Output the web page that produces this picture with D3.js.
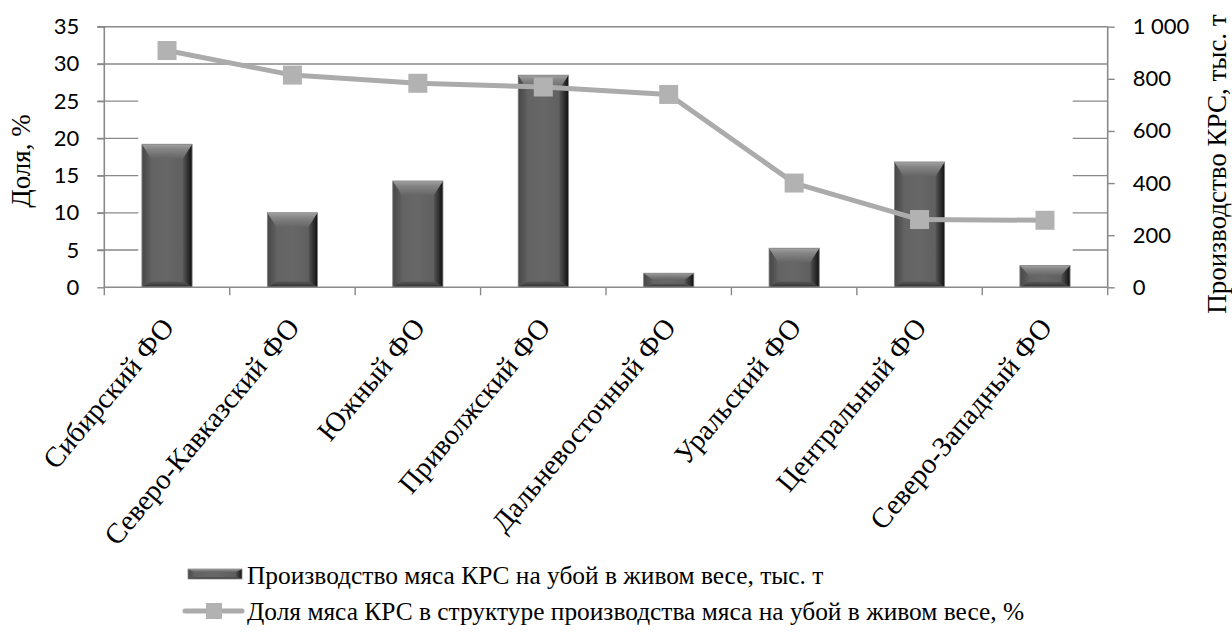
<!DOCTYPE html>
<html>
<head>
<meta charset="utf-8">
<script src="https://cdn.jsdelivr.net/npm/d3@7/dist/d3.min.js"></script>
<style>
  html, body { margin: 0; padding: 0; background: #ffffff; }
  svg { display: block; }
</style>
</head>
<body>
<svg id="chart" width="1232" height="632"></svg>
<script>
// Federal districts
const categories = [
  'Сибирский ФО', 'Северо-Кавказский ФО', 'Южный ФО', 'Приволжский ФО',
  'Дальневосточный ФО', 'Уральский ФО', 'Центральный ФО', 'Северо-Западный ФО'
];
// Cattle meat production for slaughter, live weight, thousand tonnes (right axis)
const production = [549, 286, 408, 814, 54, 150, 481, 84];
// Share of cattle meat in total meat production, % (left axis)
const share = [31.8, 28.5, 27.4, 26.9, 25.9, 14.0, 9.1, 9.0];

const leftTicks = [0, 5, 10, 15, 20, 25, 30, 35];
const rightTicks = [0, 200, 400, 600, 800, 1000];

const seriesNames = [
  'Производство мяса КРС на убой в живом весе, тыс. т',
  'Доля мяса КРС в структуре производства мяса на убой в живом весе, %'
];
const leftTitle = 'Доля, %';
const rightTitle = 'Производство КРС, тыс. т';

const SERIF = "'Liberation Serif'";
const SANS = "'Lato'";

const svg = d3.select('#chart');
const plot = { left: 104.3, right: 1107.7, top: 26.7, bottom: 287.3 };

const x = d3.scaleBand().domain(categories).range([plot.left, plot.right]).paddingInner(0.6).paddingOuter(0.3);
const xStep = d3.scaleBand().domain(categories).range([plot.left, plot.right]);
const yL = d3.scaleLinear().domain([0, 35]).range([plot.bottom, plot.top]);
const yR = d3.scaleLinear().domain([0, 1000]).range([plot.bottom, plot.top]);

const axisColor = '#898989';

// gradients for the bevelled bars
const defs = svg.append('defs');
function lin(id, x1, y1, x2, y2, stops) {
  const g = defs.append('linearGradient').attr('id', id)
    .attr('x1', x1).attr('y1', y1).attr('x2', x2).attr('y2', y2);
  stops.forEach(s => g.append('stop').attr('offset', s[0]).attr('stop-color', s[1]));
}
lin('bevTop', 0, 0, 0, 1, [[0, '#a2a2a2'], [0.35, '#858585'], [1, '#666666']]);
lin('bevLeft', 0, 0, 1, 0, [[0, '#474747'], [1, '#5f5f5f']]);
lin('bevRight', 0, 0, 1, 0, [[0, '#555555'], [0.6, '#2c2c2c'], [1, '#101010']]);
lin('bevBottom', 0, 0, 0, 1, [[0, '#5a5a5a'], [1, '#2e2e2e']]);
lin('bevFace', 0, 0, 1, 0, [[0, '#616161'], [0.5, '#676767'], [1, '#5c5c5c']]);

function bevelBar(g, bx, by, bw, bh, tSize, sSize, bSize) {
  const t = Math.min(tSize, bh * 0.45);
  const b = Math.min(bSize, bh * 0.25);
  const s = Math.min(sSize, bw * 0.2);
  const x0 = bx, x1 = bx + bw, y0 = by, y1 = by + bh;
  g.append('rect').attr('x', x0).attr('y', y0).attr('width', bw).attr('height', bh).attr('fill', 'url(#bevFace)');
  const poly = (pts, fill) => g.append('polygon').attr('points', pts.map(p => p.join(',')).join(' ')).attr('fill', fill);
  poly([[x0, y0], [x0 + s, y0 + t], [x0 + s, y1 - b], [x0, y1]], 'url(#bevLeft)');
  poly([[x1, y0], [x1, y1], [x1 - s, y1 - b], [x1 - s, y0 + t]], 'url(#bevRight)');
  poly([[x0, y1], [x0 + s, y1 - b], [x1 - s, y1 - b], [x1, y1]], 'url(#bevBottom)');
  poly([[x0, y0], [x1, y0], [x1 - s, y0 + t], [x0 + s, y0 + t]], 'url(#bevTop)');
  g.append('rect').attr('x', x0).attr('y', y0).attr('width', bw).attr('height', bh)
    .attr('fill', 'none').attr('stroke', '#8a8a8a').attr('stroke-width', 0.8);
}

// gridlines: full at the top, short stubs next to both axes below
const grid = svg.append('g');
leftTicks.filter(v => v > 0).forEach(v => {
  const yy = yL(v);
  if (v >= 30) {
    grid.append('line').attr('x1', plot.left - 7).attr('x2', plot.right).attr('y1', yy).attr('y2', yy)
      .attr('stroke', axisColor).attr('stroke-width', 1.4);
  } else {
    grid.append('line').attr('x1', plot.left - 7).attr('x2', plot.left + 34).attr('y1', yy).attr('y2', yy)
      .attr('stroke', axisColor).attr('stroke-width', 1.4);
    grid.append('line').attr('x1', plot.right - 35).attr('x2', plot.right).attr('y1', yy).attr('y2', yy)
      .attr('stroke', axisColor).attr('stroke-width', 1.4);
  }
});

// bars
const barsG = svg.append('g');
categories.forEach((c, i) => {
  const bx = x(c), bw = x.bandwidth();
  const by = yR(production[i]);
  bevelBar(barsG, bx, by, bw, plot.bottom - by, 14, 9, 6);
});

// axes
const axL = svg.append('g').attr('transform', `translate(${plot.left},0)`)
  .call(d3.axisLeft(yL).tickValues(leftTicks).tickSize(7).tickPadding(18).tickFormat(d3.format('d')));
const axR = svg.append('g').attr('transform', `translate(${plot.right},0)`)
  .call(d3.axisRight(yR).tickValues(rightTicks).tickSize(7).tickPadding(18)
    .tickFormat(d => d3.format(',')(d).replace(',', ' ')));
const axB = svg.append('g').attr('transform', `translate(0,${plot.bottom})`)
  .call(d3.axisBottom(xStep).tickSize(0).tickFormat(''));
[axL, axR, axB].forEach(a => {
  a.select('.domain').attr('stroke', axisColor).attr('stroke-width', 1.6);
  a.selectAll('.tick line').attr('stroke', axisColor).attr('stroke-width', 1.4);
  a.selectAll('.tick text').attr('fill', '#000').style('font-family', SANS).style('font-size', '22px');
});
axL.select('.domain').attr('d', `M0,${plot.top}V${plot.bottom}`);
axR.select('.domain').attr('d', `M0,${plot.top}V${plot.bottom}`);
axB.select('.domain').attr('d', `M${plot.left},0H${plot.right}`);

// category boundary ticks
const bounds = d3.range(categories.length + 1).map(i => plot.left + i * xStep.step());
svg.append('g').selectAll('line').data(bounds).join('line')
  .attr('x1', d => d).attr('x2', d => d).attr('y1', plot.bottom).attr('y2', plot.bottom + 8)
  .attr('stroke', axisColor).attr('stroke-width', 1.4);

// rotated category labels
svg.append('g').selectAll('text').data(categories).join('text')
  .attr('transform', d => `translate(${xStep(d) + xStep.bandwidth() / 2 + 8.5},${plot.bottom + 41}) rotate(-50)`)
  .attr('text-anchor', 'end')
  .style('font-family', SERIF).style('font-size', '28.5px').attr('fill', '#000')
  .text(d => d);

// share line with square markers
const lineG = svg.append('g');
const pts = categories.map((c, i) => [xStep(c) + xStep.bandwidth() / 2, yL(share[i])]);
lineG.append('path').attr('d', d3.line()(pts)).attr('fill', 'none')
  .attr('stroke', '#ababab').attr('stroke-width', 5).attr('stroke-linejoin', 'round');
lineG.selectAll('rect').data(pts).join('rect')
  .attr('x', d => d[0] - 9.5).attr('y', d => d[1] - 9.5).attr('width', 19).attr('height', 19)
  .attr('fill', '#b2b2b2');

// axis titles
svg.append('text').attr('transform', `translate(30,161) rotate(-90)`).attr('text-anchor', 'middle')
  .style('font-family', SERIF).style('font-size', '27px').text(leftTitle);
svg.append('text').attr('transform', `translate(1226,164) rotate(-90)`).attr('text-anchor', 'middle')
  .style('font-family', SERIF).style('font-size', '27px').text(rightTitle);

// legend
const leg = svg.append('g');
bevelBar(leg, 188, 569, 54, 10, 3, 6, 2);
leg.append('text').attr('x', 247).attr('y', 584).style('font-family', SERIF).style('font-size', '25.4px').text(seriesNames[0]);
leg.append('line').attr('x1', 185).attr('x2', 242).attr('y1', 611).attr('y2', 611)
  .attr('stroke', '#ababab').attr('stroke-width', 5).attr('stroke-linecap', 'round');
leg.append('rect').attr('x', 206).attr('y', 603).attr('width', 16).attr('height', 16).attr('fill', '#b2b2b2');
leg.append('text').attr('x', 247).attr('y', 620).style('font-family', SERIF).style('font-size', '25.4px').text(seriesNames[1]);
</script>
</body>
</html>
